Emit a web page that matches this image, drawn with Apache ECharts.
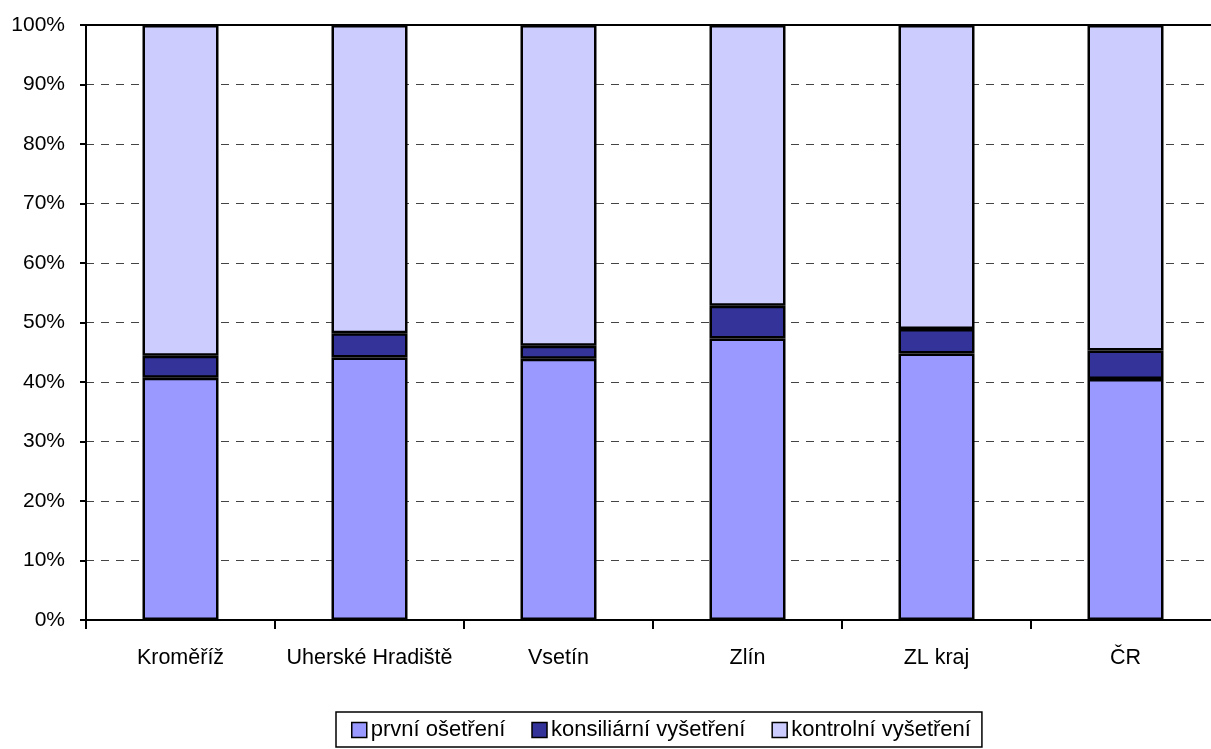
<!DOCTYPE html>
<html>
<head>
<meta charset="utf-8">
<script src="https://cdn.jsdelivr.net/npm/echarts@6/dist/echarts.min.js"></script>
<style>
html,body{margin:0;padding:0;background:#fff;overflow:hidden;}
#c{width:1220px;height:749px;}
</style>
</head>
<body>
<div id="c"></div>
<script>
var categories = ['Kroměříž', 'Uherské Hradiště', 'Vsetín', 'Zlín', 'ZL kraj', 'ČR'];
var prvniOsetreni = [40.7, 44.1, 43.9, 47.3, 44.8, 40.5];
var konsiliarniVysetreni = [3.7, 4.1, 2.2, 5.5, 4.1, 4.8];
var kontrolniVysetreni = [55.6, 51.8, 53.9, 47.2, 51.1, 54.7];
var yTicks = [0, 10, 20, 30, 40, 50, 60, 70, 80, 90, 100];

var font = '"Liberation Sans", Arial, sans-serif';
var chart = echarts.init(document.getElementById('c'), null, {renderer: 'canvas', width: 1220, height: 749});

function barSeries(name, data, color) {
  return {
    name: name,
    type: 'bar',
    stack: 'all',
    data: data,
    barWidth: 76,
    itemStyle: {color: color, borderColor: '#000', borderWidth: 2.5},
    emphasis: {disabled: true},
    animation: false
  };
}

chart.setOption({
  animation: false,
  textStyle: {fontFamily: font},
  grid: {left: 86, top: 25, width: 1134, height: 595, containLabel: false},
  legend: {
    left: 336, top: 712,
    orient: 'horizontal',
    borderColor: '#000', borderWidth: 1.5,
    padding: [7, 11, 6, 15],
    itemGap: 26, itemWidth: 15, itemHeight: 15,
    icon: 'rect',
    textStyle: {fontFamily: font, fontSize: 22, color: '#000', padding: [0, 0, 0, -1]},
    itemStyle: {borderColor: '#000', borderWidth: 1.5},
    data: ['první ošetření', 'konsiliární vyšetření', 'kontrolní vyšetření']
  },
  xAxis: [{
    type: 'category',
    data: categories,
    boundaryGap: true,
    axisLine: {lineStyle: {color: '#000', width: 2}},
    axisTick: {show: true, inside: false, length: 9, lineStyle: {color: '#000', width: 2}},
    axisLabel: {fontFamily: font, fontSize: 21.5, color: '#000', margin: 27, interval: 0}
  }, {
    type: 'category',
    position: 'top',
    data: categories,
    axisLine: {show: true, lineStyle: {color: '#000', width: 2}},
    axisTick: {show: false},
    axisLabel: {show: false}
  }],
  yAxis: {
    type: 'value',
    min: yTicks[0], max: yTicks[yTicks.length - 1], interval: 10,
    axisLine: {show: true, lineStyle: {color: '#000', width: 2}},
    axisTick: {show: true, inside: false, length: 6, lineStyle: {color: '#000', width: 2}},
    axisLabel: {fontFamily: font, fontSize: 21, color: '#000', margin: 21,
      formatter: function (v) { return v + '%'; }},
    splitLine: {show: true, lineStyle: {color: '#444', width: 1, type: [8, 7]}}
  },
  series: [
    barSeries('první ošetření', prvniOsetreni, '#9999FF'),
    barSeries('konsiliární vyšetření', konsiliarniVysetreni, '#333399'),
    barSeries('kontrolní vyšetření', kontrolniVysetreni, '#CCCCFF')
  ]
});
</script>
</body>
</html>
